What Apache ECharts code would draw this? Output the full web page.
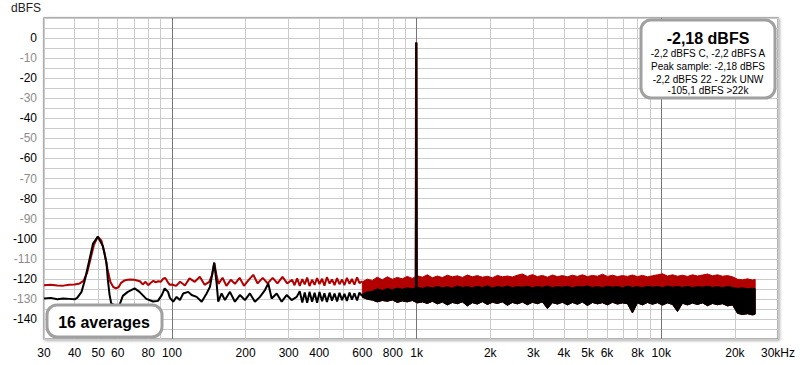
<!DOCTYPE html>
<html>
<head>
<meta charset="utf-8">
<script src="https://cdn.jsdelivr.net/npm/echarts@6/dist/echarts.min.js"></script>
<style>
html,body{margin:0;padding:0;background:#fff;}
#chart{width:800px;height:365px;}
</style>
</head>
<body>
<div id="chart"></div>
<script>
// ---------- data ----------
const xLabelFreqs = [30,40,50,60,80,100,200,300,400,600,800,1000,2000,3000,4000,5000,6000,8000,10000,20000,30000];
const gridFreqs = [30,40,50,60,70,80,90,100,200,300,400,500,600,700,800,900,1000,2000,3000,4000,5000,6000,7000,8000,9000,10000,20000,30000];
const decadeFreqs = [100,1000,10000];

// red trace, low-frequency part (Hz, dBFS)
const redF = [30,32,34,36,38,40,42,43.5,45,46.5,48,49.8,51.5,53,54.5,56,57.5,59,60.5,62,64,66,68,70,72,74,76,78,80,82,84,86,88,90,92,94,96,98,100,
  104,108,113,118,124,130,136,142,146,148.9,152,155,161,167,174,181,189,197,206,215,224,235,246,258,270,283,296,310,
  317,325,333,341,349,357,365,374,383,392,401,411,420,430,441,451,462,473,484,496,507,519,532,544,557,571,584,598];
const redDb = [-123.2,-123.0,-123.3,-123.4,-123.0,-122.8,-122.3,-121,-117,-110,-103,-99,-101,-107,-115,-121.5,-124,-124.8,-124.2,-122,-120.8,-120.5,-120.3,-120.5,-120.8,-121.2,-122.8,-121.5,-123.2,-122,-121,-121.8,-121.2,-121.5,-120,-119.6,-121.5,-123,-122.8,
  -123.5,-121.5,-123.3,-119.8,-121.5,-119,-123,-121.5,-118,-112,-118,-122.5,-119.5,-123.5,-120.5,-122.5,-119.5,-123.5,-120.5,-118,-122.3,-119.5,-122.3,-119.5,-122.3,-119,-122.3,-120.5,
  -123.2,-119.8,-123.5,-120.2,-122.8,-119.4,-123.6,-120.5,-123.0,-119.6,-122.6,-120.0,-123.4,-119.2,-122.4,-120.3,-123.1,-119.7,-122.7,-120.4,-123.2,-119.5,-122.5,-120.1,-122.9,-119.3,-122.2,-121.2];

// black trace, low-frequency part (Hz, dBFS)
const blackF = [30,32,34,36,38,40,41,42.7,44,46.1,47.6,49.8,52.2,54,54.7,55.6,56.5,58.3,61.1,63,66,70.4,73.7,78.6,83.7,87.7,91,93.4,96.4,98.1,
  101.2,104.5,107.8,111.2,116.6,120.4,126.2,132.3,138.6,143,148.9,152.3,154.6,159.6,164.7,172.6,180.9,189.6,198.8,208.3,218.4,228.9,240,247.6,255.6,268,280.9,294.4,308.6,323.6,
  333,341,349,357,365,374,383,392,401,411,420,430,441,451,462,473,484,496,507,519,532,544,557,571,584,598];
const blackDb = [-129.8,-129.5,-130.2,-129.8,-130,-130.2,-129.5,-126.5,-121,-110,-102.4,-99,-103.7,-112,-120.3,-128,-132.3,-133.2,-133,-128.5,-126.5,-124.8,-126.5,-130,-131.3,-131,-128,-124.8,-126.5,-129.5,
  -131.4,-129,-130.6,-127.3,-126.5,-128.1,-129,-131.4,-127.3,-124,-112,-122.3,-131.4,-127.3,-130.6,-126.5,-131.4,-128.1,-130.6,-127.3,-131.4,-129,-125.6,-122.3,-129.8,-127.3,-131.4,-128.1,-130.6,-129,
  -126.2,-131.8,-126.8,-132.0,-126.5,-131.4,-127.0,-131.9,-126.6,-131.2,-127.2,-131.6,-126.9,-130.9,-127.4,-131.3,-127.0,-130.6,-127.5,-131.0,-126.8,-130.4,-127.3,-130.8,-126.9,-128.5];

// dense noise region: envelopes of the red and black traces
const bandF = [600,629,659,691,724,759,796,834,874,916,960,1007,1056,1106,1160,1216,1274,1336,1400,1468,1539,1613,1690,1772,1857,1947,2041,2139,2242,2350,2463,2582,2707,2837,2974,3117,3268,3425,3590,3763,3945,4135,4334,4543,4762,4992,5233,5485,5749,6026,6317,6621,6941,7275,7626,7993,8379,8783,9206,9650,10115,10603,11114,11650,12211,12800,13417,14063,14741,15452,16197,16977,17796,18654,19553,20495,21483,22519,23604,24200];
const redTop = [-121.5,-120.2,-120.8,-119.2,-120.5,-119.0,-120.2,-119.3,-120.0,-118.8,-119.8,-118.5,-119.2,-118.0,-119.5,-118.6,-119.4,-118.2,-119.0,-118.5,-119.3,-118.1,-119.0,-118.4,-119.2,-118.7,-119.5,-118.3,-119.0,-118.6,-119.1,-118.2,-117.6,-118.8,-117.9,-118.9,-118.3,-119.2,-118.1,-118.9,-118.4,-119.0,-118.2,-118.8,-118.0,-118.9,-118.3,-118.7,-117.7,-118.8,-118.2,-118.9,-118.4,-118.8,-118.1,-118.9,-118.3,-119.0,-118.5,-118.0,-117.5,-118.6,-118.0,-118.7,-118.2,-118.8,-118.0,-118.6,-118.1,-117.6,-118.5,-118.0,-118.7,-118.4,-119.0,-120.2,-120.5,-120.0,-120.6,-120.3];
const blackTop = [-127.6,-126.5,-126.2,-125.0,-125.8,-124.8,-125.5,-124.6,-125.2,-124.5,-125.0,-124.2,-124.8,-124.0,-124.6,-123.8,-124.5,-124.0,-124.7,-123.6,-124.3,-123.9,-124.5,-123.7,-124.4,-123.5,-124.6,-123.8,-124.3,-123.6,-124.4,-123.9,-124.2,-123.7,-124.5,-123.8,-124.3,-123.6,-124.4,-123.9,-124.2,-123.7,-124.5,-123.8,-124.1,-123.6,-124.3,-123.9,-124.4,-123.7,-124.2,-123.8,-124.5,-123.6,-124.3,-123.9,-124.4,-123.7,-124.2,-123.8,-124.4,-123.6,-124.2,-123.8,-124.3,-123.7,-124.4,-123.9,-124.2,-123.7,-124.3,-123.9,-124.4,-123.8,-124.3,-124.8,-124.5,-125.0,-124.7,-124.9];
const blackBottom = [-129.2,-130.2,-130.6,-131.5,-130.8,-131.2,-130.5,-131.8,-131.0,-131.5,-130.8,-132.0,-131.5,-132.3,-131.2,-132.5,-131.6,-133.0,-131.8,-132.4,-131.5,-133.5,-131.9,-132.6,-131.4,-132.8,-131.7,-132.3,-131.5,-133.2,-131.8,-132.5,-131.6,-132.9,-131.7,-132.4,-131.5,-134.8,-131.9,-132.6,-131.7,-133.0,-131.8,-132.7,-131.6,-133.3,-131.8,-132.5,-131.9,-133.0,-131.7,-132.6,-132.0,-132.4,-137.0,-132.0,-133.0,-131.8,-132.7,-131.9,-133.1,-132.0,-132.8,-136.3,-132.2,-133.0,-132.1,-132.8,-132.0,-133.4,-132.3,-132.9,-132.4,-133.5,-133.0,-137.2,-137.8,-137.4,-138.0,-137.6];

// 997 Hz test tone
const spikeF = [993,995.5,996.5,997,997.5,998.5,1001];
const spikeDb = [-125,-60,-15,-2.18,-15,-60,-125];

// ---------- build ----------
const L = Math.log10;
const pts = (f, v) => f.map((x, i) => [L(x), v[i]]);
const RED = '#b20000', BLK = '#000000';
const FONT = '"Liberation Sans", Arial, sans-serif';

function fmtFreq(v) {
  const f = Math.round(Math.pow(10, v));
  if (f >= 30000) return '30kHz';
  if (f >= 1000) return (f / 1000) + 'k';
  return String(f);
}

// band drawn as a polygon between two envelopes, positioned with the axis scales (api.coord)
function bandSeries(name, topArr, botArr, color, z) {
  return {
    type: 'custom', name: name, z: z, clip: true,
    data: bandF.map((f, i) => [L(f), topArr[i], botArr[i]]),
    encode: {x: 0, y: [1, 2]},
    renderItem: function (params, api) {
      if (params.dataIndex !== 0) return null;
      const top = bandF.map((f, i) => api.coord([L(f), topArr[i]]));
      const bot = bandF.map((f, i) => api.coord([L(f), botArr[i]])).reverse();
      return {type: 'polygon', shape: {points: top.concat(bot)}, style: {fill: color, stroke: color, lineWidth: 1}};
    }
  };
}

const chart = echarts.init(document.getElementById('chart'), null, {renderer: 'svg'});
const option = {
  animation: false,
  backgroundColor: '#ffffff',
  grid: {
    left: 44, right: 22, top: 18, bottom: 26,
    show: true, backgroundColor: '#ffffff',
    borderColor: '#9a9a9a', borderWidth: 1.5,
    shadowColor: 'rgba(0,0,0,0.35)', shadowBlur: 3, shadowOffsetX: 1, shadowOffsetY: 1
  },
  xAxis: [{
    type: 'value', min: L(30), max: L(30000),
    axisLine: {show: false},
    axisTick: {show: false, customValues: gridFreqs.map(L)},
    axisLabel: {customValues: xLabelFreqs.map(L), formatter: fmtFreq, color: '#000', fontSize: 12, fontFamily: FONT, margin: 8},
    splitLine: {show: true, lineStyle: {color: '#cbcbcb', width: 1}}
  }, {
    type: 'value', min: L(30), max: L(30000), gridIndex: 0,
    axisLine: {show: false},
    axisTick: {show: false, customValues: decadeFreqs.map(L)},
    axisLabel: {show: false},
    splitLine: {show: true, lineStyle: {color: '#767676', width: 1}}
  }],
  yAxis: {
    type: 'value', min: -150, max: 10, interval: 5,
    axisLine: {show: false}, axisTick: {show: false},
    axisLabel: {
      margin: 7, fontSize: 12, fontFamily: FONT,
      formatter: function (v) {
        if (v % 10 !== 0 || v > 0 || v < -140) return '';
        return (v % 20 === 0 ? '{k|' : '{g|') + v + '}';
      },
      rich: {k: {color: '#000', fontSize: 12, fontFamily: FONT}, g: {color: '#8c8c8c', fontSize: 12, fontFamily: FONT}}
    },
    splitLine: {show: true, lineStyle: {color: '#cbcbcb', width: 1}}
  },
  series: [
    {type: 'line', name: 'red', data: pts(redF, redDb), symbol: 'none', lineStyle: {color: RED, width: 2}, z: 2},
    bandSeries('redBand', redTop, blackBottom, RED, 2),
    {type: 'line', name: 'redSpike', data: pts(spikeF, spikeDb), symbol: 'none', lineStyle: {color: RED, width: 2.5}, z: 2},
    {type: 'line', name: 'black', data: pts(blackF, blackDb), symbol: 'none', lineStyle: {color: BLK, width: 2}, z: 3},
    bandSeries('blackBand', blackTop, blackBottom, BLK, 3),
    {type: 'line', name: 'blackSpike', data: pts(spikeF, spikeDb), symbol: 'none', lineStyle: {color: BLK, width: 2}, z: 3}
  ],
  graphic: [
    {type: 'text', left: 11, top: 2, style: {text: 'dBFS', fill: '#222', font: '12px ' + FONT}},
    {type: 'rect', z: 100, shape: {x: 641, y: 20, width: 134, height: 78, r: 10}, style: {fill: '#fff', stroke: '#a0a0a0', lineWidth: 3}},
    {type: 'text', z: 101, style: {x: 708, y: 38.5, text: '-2,18 dBFS', fill: '#000', font: 'bold 16px ' + FONT, textAlign: 'center', textVerticalAlign: 'middle'}},
    {type: 'text', z: 101, style: {x: 708, y: 53.5, text: '-2,2 dBFS C, -2,2 dBFS A', fill: '#000', font: '10px ' + FONT, textAlign: 'center', textVerticalAlign: 'middle'}},
    {type: 'text', z: 101, style: {x: 708, y: 66.5, text: 'Peak sample: -2,18 dBFS', fill: '#000', font: '10px ' + FONT, textAlign: 'center', textVerticalAlign: 'middle'}},
    {type: 'text', z: 101, style: {x: 708, y: 79, text: '-2,2 dBFS 22 - 22k UNW', fill: '#000', font: '10px ' + FONT, textAlign: 'center', textVerticalAlign: 'middle'}},
    {type: 'text', z: 101, style: {x: 708, y: 90.5, text: '-105,1 dBFS >22k', fill: '#000', font: '10px ' + FONT, textAlign: 'center', textVerticalAlign: 'middle'}},
    {type: 'rect', z: 100, shape: {x: 47, y: 305, width: 115, height: 32, r: 10}, style: {fill: '#fff', stroke: '#a0a0a0', lineWidth: 3}},
    {type: 'text', z: 101, style: {x: 104, y: 322, text: '16 averages', fill: '#000', font: 'bold 16px ' + FONT, textAlign: 'center', textVerticalAlign: 'middle'}}
  ]
};
chart.setOption(option);
</script>
</body>
</html>
